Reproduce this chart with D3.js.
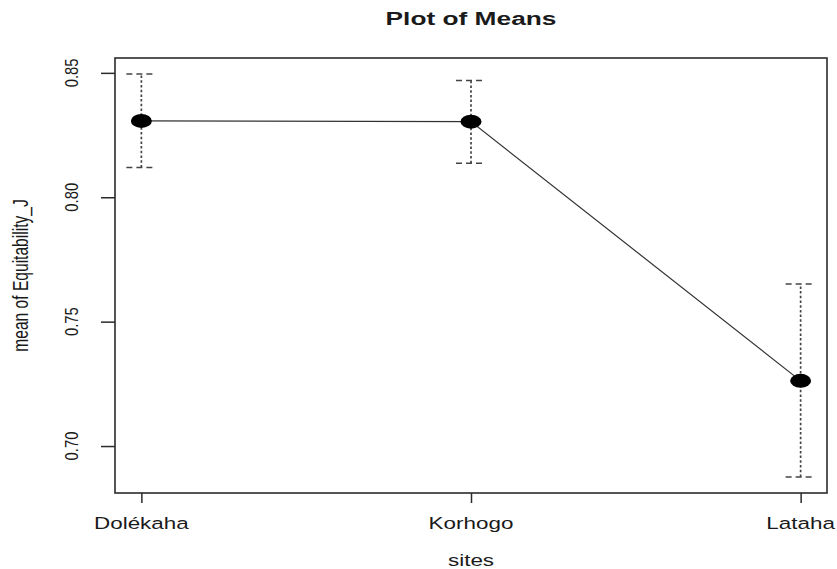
<!DOCTYPE html>
<html>
<head>
<meta charset="utf-8">
<script src="https://cdn.jsdelivr.net/npm/d3@7"></script>
<style>
  html, body { margin: 0; padding: 0; background: #fff; }
  svg { display: block; }
  text { font-family: "Liberation Sans", Arial, Helvetica, sans-serif; fill: #1a1a1a; }
</style>
</head>
<body>
<svg id="chart" width="837" height="569"></svg>
<script>
// Group means of Equitability_J by site, with their confidence limits
const sites = ["Dolékaha", "Korhogo", "Lataha"];
const means = [0.8307, 0.8304, 0.7262];
const upper = [0.8495, 0.8469, 0.7651];
const lower = [0.8120, 0.8137, 0.6876];
const yTicks = [0.70, 0.75, 0.80, 0.85];
const yTickLabels = ["0.70", "0.75", "0.80", "0.85"];
const title = "Plot of Means";
const xTitle = "sites";
const yTitle = "mean of Equitability_J";

const W = 837, H = 569;
const margin = { top: 58, right: 10, bottom: 76, left: 115 };
const sx = 1.36; // horizontal stretch of the device text

const svg = d3.select("#chart");

// R-style 4% range extension on both axes
function extend(lo, hi) { const d = (hi - lo) * 0.04; return [lo - d, hi + d]; }
const xIdx = sites.map((d, i) => i + 1);
const x = d3.scaleLinear()
  .domain(extend(d3.min(xIdx), d3.max(xIdx)))
  .range([margin.left, W - margin.right]);
const y = d3.scaleLinear()
  .domain(extend(d3.min(lower), d3.max(upper)))
  .range([H - margin.bottom, margin.top]);

const ink = "#2b2b2b";

// error bars: dashed shafts and caps
const bars = svg.append("g");
sites.forEach((s, i) => {
  const cx = x(i + 1);
  bars.append("line")
    .attr("x1", cx).attr("x2", cx)
    .attr("y1", y(lower[i])).attr("y2", y(upper[i]))
    .attr("stroke", "#444").attr("stroke-width", 1.7)
    .attr("stroke-dasharray", "2.5,2.2");
  [upper[i], lower[i]].forEach(v => {
    bars.append("line")
      .attr("x1", cx - 15).attr("x2", cx + 15)
      .attr("y1", y(v)).attr("y2", y(v))
      .attr("stroke", "#444").attr("stroke-width", 1.5)
      .attr("stroke-dasharray", "6,4");
  });
});

// line joining the means
svg.append("path")
  .datum(means)
  .attr("fill", "none")
  .attr("stroke", "#333")
  .attr("stroke-width", 1.2)
  .attr("d", d3.line().x((d, i) => x(i + 1)).y(d => y(d)));

// mean markers
svg.append("g").selectAll("ellipse")
  .data(means)
  .join("ellipse")
  .attr("cx", (d, i) => x(i + 1))
  .attr("cy", d => y(d))
  .attr("rx", 10.5).attr("ry", 7)
  .attr("fill", "#000");

// plot box
svg.append("rect")
  .attr("x", margin.left).attr("y", margin.top)
  .attr("width", W - margin.left - margin.right)
  .attr("height", H - margin.top - margin.bottom)
  .attr("fill", "none").attr("stroke", ink).attr("stroke-width", 1.6);

// x axis
const xAxis = d3.axisBottom(x)
  .tickValues(xIdx)
  .tickFormat(() => "")
  .tickSize(10)
  .tickSizeOuter(0);
const gx = svg.append("g")
  .attr("transform", `translate(0,${H - margin.bottom})`)
  .call(xAxis);
gx.select(".domain").remove();
gx.selectAll(".tick line").attr("stroke", ink).attr("stroke-width", 1.5);
sites.forEach((s, i) => {
  svg.append("text")
    .attr("transform", `translate(${x(i + 1)},529) scale(${sx},1)`)
    .attr("text-anchor", "middle")
    .attr("font-size", 16.5)
    .text(s);
});

// y axis
const yAxis = d3.axisLeft(y)
  .tickValues(yTicks)
  .tickFormat(() => "")
  .tickSize(14)
  .tickSizeOuter(0);
const gy = svg.append("g")
  .attr("transform", `translate(${margin.left},0)`)
  .call(yAxis);
gy.select(".domain").remove();
gy.selectAll(".tick line").attr("stroke", ink).attr("stroke-width", 1.5);
yTicks.forEach((t, i) => {
  svg.append("text")
    .attr("transform", `translate(78,${y(t)}) scale(1.25,1) rotate(-90)`)
    .attr("text-anchor", "middle")
    .attr("font-size", 14.8)
    .text(yTickLabels[i]);
});

// titles
svg.append("text")
  .attr("transform", `translate(${(margin.left + W - margin.right) / 2},25) scale(1.37,1)`)
  .attr("text-anchor", "middle")
  .attr("font-size", 19.2)
  .attr("font-weight", "bold")
  .text(title);
svg.append("text")
  .attr("transform", `translate(${(margin.left + W - margin.right) / 2},566) scale(${sx},1)`)
  .attr("text-anchor", "middle")
  .attr("font-size", 16.5)
  .text(xTitle);
svg.append("text")
  .attr("transform", `translate(28,${(margin.top + H - margin.bottom) / 2}) scale(1.4,1) rotate(-90)`)
  .attr("text-anchor", "middle")
  .attr("font-size", 15.6)
  .text(yTitle);
</script>
</body>
</html>
